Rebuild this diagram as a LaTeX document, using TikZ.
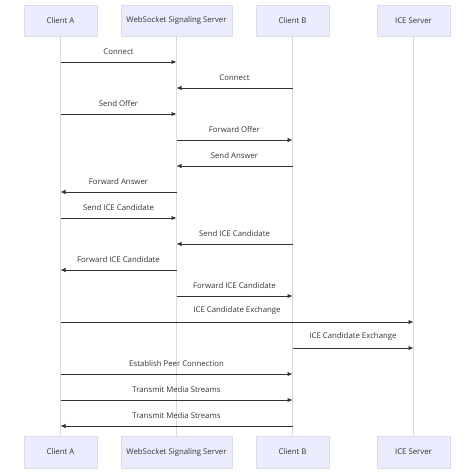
\documentclass[tikz,border=0pt]{standalone}
\usepackage{fontspec}
\setmainfont{Open Sans}
\usetikzlibrary{arrows.meta}
\definecolor{boxfill}{HTML}{ECECFF}
\definecolor{boxline}{HTML}{DCDCF0}
\definecolor{life}{HTML}{D9D9E3}
\definecolor{msg}{HTML}{333333}
\begin{document}
\begin{tikzpicture}[x=1pt,y=-1pt,
  actor/.style={draw=boxline,fill=boxfill,line width=0.6pt,font=\fontsize{7.8}{9}\selectfont,text=msg,inner sep=0pt},
  lifeline/.style={draw=life,line width=0.8pt},
  msgline/.style={draw=msg,line width=0.8pt,-{Latex[length=5pt,width=4.5pt]}},
  lbl/.style={font=\fontsize{7.8}{9}\selectfont,text=msg,inner sep=0pt}]
\useasboundingbox (0,0) rectangle (474,473);
% top actors
\node[actor,minimum width=73pt,minimum height=31pt] (at) at (60.5,20.5) {Client A};
\node[actor,minimum width=111pt,minimum height=31pt] (wt) at (176.5,20.5) {WebSocket Signaling Server};
\node[actor,minimum width=73pt,minimum height=31pt] (bt) at (292.5,20.5) {Client B};
\node[actor,minimum width=73pt,minimum height=31pt] (it) at (413.5,20.5) {ICE Server};
% bottom actors
\node[actor,minimum width=73pt,minimum height=32pt] (ab) at (60.5,452) {Client A};
\node[actor,minimum width=111pt,minimum height=32pt] (wb) at (176.5,452) {WebSocket Signaling Server};
\node[actor,minimum width=73pt,minimum height=32pt] (bb) at (292.5,452) {Client B};
\node[actor,minimum width=73pt,minimum height=32pt] (ib) at (413.5,452) {ICE Server};
% lifelines
\draw[lifeline] (at.south) -- (ab.north);
\draw[lifeline] (wt.south) -- (wb.north);
\draw[lifeline] (bt.south) -- (bb.north);
\draw[lifeline] (it.south) -- (ib.north);
% message anchor coordinates
\foreach \n/\y in {1/62,2/88,3/114,4/140,5/166,6/192,7/218,8/244,9/270,10/296,11/322,12/348,13/374,14/400,15/426}{
  \coordinate (A\n) at (60.5,\y);
  \coordinate (W\n) at (176.5,\y);
  \coordinate (B\n) at (292.5,\y);
  \coordinate (I\n) at (413.5,\y);
}
\newcommand{\msgarrow}[3]{\draw[msgline] (#1) -- node[lbl,above=7pt,pos=0.5] {#3} (#2);}
\msgarrow{A1}{W1}{Connect}
\msgarrow{B2}{W2}{Connect}
\msgarrow{A3}{W3}{Send Offer}
\msgarrow{W4}{B4}{Forward Offer}
\msgarrow{B5}{W5}{Send Answer}
\msgarrow{W6}{A6}{Forward Answer}
\msgarrow{A7}{W7}{Send ICE Candidate}
\msgarrow{B8}{W8}{Send ICE Candidate}
\msgarrow{W9}{A9}{Forward ICE Candidate}
\msgarrow{W10}{B10}{Forward ICE Candidate}
\msgarrow{A11}{I11}{ICE Candidate Exchange}
\msgarrow{B12}{I12}{ICE Candidate Exchange}
\msgarrow{A13}{B13}{Establish Peer Connection}
\msgarrow{A14}{B14}{Transmit Media Streams}
\msgarrow{B15}{A15}{Transmit Media Streams}
\end{tikzpicture}
\end{document}
